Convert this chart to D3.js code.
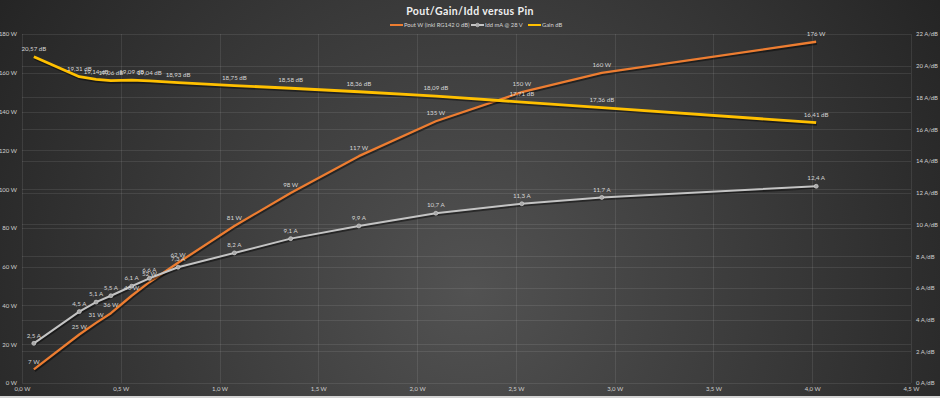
<!DOCTYPE html>
<html>
<head>
<meta charset="utf-8">
<script src="https://cdn.jsdelivr.net/npm/d3@7"></script>
<style>
    body { margin: 0; background: #222; }
    svg { display: block; }
    text { font-family: "Lato", "Liberation Sans", sans-serif; }
</style>
</head>
<body>
<script>
var w = 940;
var h = 398;

// Data (Pin in W)
//************** */
var pin = [0.06, 0.29, 0.375, 0.45, 0.555, 0.645, 0.79, 1.075, 1.36, 1.705, 2.095, 2.53, 2.935, 4.02];
var pout = [7, 25, 31, 36, 45, 52, 62, 81, 98, 117, 135, 150, 160, 176];
var idd = [2.5, 4.5, 5.1, 5.5, 6.1, 6.6, 7.3, 8.2, 9.1, 9.9, 10.7, 11.3, 11.7, 12.4];
var gain = [20.57, 19.31, 19.14, 19.06, 19.09, 19.04, 18.93, 18.75, 18.58, 18.36, 18.09, 17.71, 17.36, 16.41];

var seriesNames = ["Pout W (inkl RG142 0 dB)", "Idd mA @ 28 V", "Gain dB"];
var seriesColors = ["#ED7D31", "#C4C4C4", "#FFC000"];
var title = "Pout/Gain/Idd versus Pin";

var xTicks = [0, 0.5, 1, 1.5, 2, 2.5, 3, 3.5, 4, 4.5];
var leftTicks = [0, 20, 40, 60, 80, 100, 120, 140, 160, 180];
var rightTicks = [0, 2, 4, 6, 8, 10, 12, 14, 16, 18, 20, 22];

function comma(v, n) {
    return v.toFixed(n).replace(".", ",");
}

//Scales
//************** */
var x = d3.scaleLinear().domain([0, 4.5]).range([22, 911]);
var yL = d3.scaleLinear().domain([0, 180]).range([383, 34]);
var yR = d3.scaleLinear().domain([0, 22]).range([383, 34]);

var svg = d3.select("body")
    .append("svg")
    .attr("width", w)
    .attr("height", h);

// background gradient
var defs = svg.append("defs");
var grad = defs.append("radialGradient")
    .attr("id", "bg")
    .attr("gradientUnits", "userSpaceOnUse")
    .attr("cx", 470).attr("cy", 290).attr("r", 560);
grad.append("stop").attr("offset", 0).attr("stop-color", "#525252");
grad.append("stop").attr("offset", 1).attr("stop-color", "#242424");

svg.append("rect")
    .attr("width", w)
    .attr("height", h)
    .attr("fill", "url(#bg)");

svg.append("rect")
    .attr("y", 396)
    .attr("width", w)
    .attr("height", 2)
    .attr("fill", "#d4d4d4");

//Gridlines
//************** */
var grid = svg.append("g")
    .attr("stroke", "#ffffff")
    .attr("stroke-opacity", 0.09)
    .attr("stroke-width", 1);

grid.selectAll(".gl")
    .data(leftTicks)
    .enter()
    .append("line")
    .attr("x1", x(0)).attr("x2", x(4.5))
    .attr("y1", function (d) { return Math.round(yL(d)) + 0.5; })
    .attr("y2", function (d) { return Math.round(yL(d)) + 0.5; });

grid.selectAll(".gr")
    .data(rightTicks.filter(function (d) { return d > 0 && d < 22; }))
    .enter()
    .append("line")
    .attr("x1", x(0)).attr("x2", x(4.5))
    .attr("y1", function (d) { return Math.round(yR(d)) + 0.5; })
    .attr("y2", function (d) { return Math.round(yR(d)) + 0.5; });

grid.selectAll(".gx")
    .data(xTicks)
    .enter()
    .append("line")
    .attr("y1", yL(0)).attr("y2", yL(180))
    .attr("x1", function (d) { return Math.round(x(d)) + 0.5; })
    .attr("x2", function (d) { return Math.round(x(d)) + 0.5; });

//Axes
//************** */
var axisLeft = d3.axisLeft(yL)
    .tickValues(leftTicks)
    .tickSize(0)
    .tickPadding(5)
    .tickFormat(function (d) { return d + " W"; });

var axisRight = d3.axisRight(yR)
    .tickValues(rightTicks)
    .tickSize(0)
    .tickPadding(5)
    .tickFormat(function (d) { return d + " A/dB"; });

var axisBottom = d3.axisBottom(x)
    .tickValues(xTicks)
    .tickSize(0)
    .tickPadding(4)
    .tickFormat(function (d) { return comma(d, 1) + " W"; });

svg.append("g").attr("transform", "translate(22,0)").call(axisLeft);
svg.append("g").attr("transform", "translate(911,0)").call(axisRight);
svg.append("g").attr("transform", "translate(0,383)").call(axisBottom);

svg.selectAll(".domain").remove();
svg.selectAll(".tick text")
    .attr("fill", "#d0d0d0")
    .style("font-size", "6px");

//Lines
//************** */
var rows = pin.map(function (p, i) {
    return { pin: p, pout: pout[i], idd: idd[i], gain: gain[i] };
});

var series = [
    { key: "pout", y: yL, color: seriesColors[0], width: 2.3, label: function (d) { return d + " W"; } },
    { key: "idd", y: yR, color: seriesColors[1], width: 2, label: function (d) { return comma(d, 1) + " A"; } },
    { key: "gain", y: yR, color: seriesColors[2], width: 2.8, label: function (d) { return comma(d, 2) + " dB"; } }
];

series.forEach(function (s) {
    var line = d3.line()
        .x(function (d) { return x(d.pin); })
        .y(function (d) { return s.y(d[s.key]); });

    // shadow
    svg.append("path")
        .datum(rows)
        .attr("d", line)
        .attr("transform", "translate(0.8,1.5)")
        .attr("fill", "none")
        .attr("stroke", "#000")
        .attr("stroke-opacity", 0.45)
        .attr("stroke-width", s.width + 0.5);

    svg.append("path")
        .datum(rows)
        .attr("d", line)
        .attr("fill", "none")
        .attr("stroke", s.color)
        .attr("stroke-width", s.width)
        .attr("stroke-linejoin", "round");

    if (s.key == "idd") {
        svg.selectAll(".marker")
            .data(rows)
            .enter()
            .append("circle")
            .attr("cx", function (d) { return x(d.pin); })
            .attr("cy", function (d) { return s.y(d.idd); })
            .attr("r", 2)
            .attr("fill", "#a8a8a8")
            .attr("stroke", "#cfcfcf")
            .attr("stroke-width", 0.7);
    }
});

//Data labels
//************** */
series.forEach(function (s) {
    svg.append("g")
        .selectAll("text")
        .data(rows)
        .enter()
        .append("text")
        .attr("x", function (d) { return x(d.pin); })
        .attr("y", function (d) { return s.y(d[s.key]) - 8; })
        .attr("dy", "0.35em")
        .attr("text-anchor", "middle")
        .attr("fill", "#d6d6d6")
        .style("font-size", "6.2px")
        .text(function (d) { return s.label(d[s.key]); });
});

//Title + legend
//************** */
svg.append("text")
    .attr("x", 470)
    .attr("y", 15)
    .attr("text-anchor", "middle")
    .attr("fill", "#f0f0f0")
    .style("font-size", "10.5px")
    .style("font-weight", "bold")
    .style("letter-spacing", "0.4px")
    .text(title);

var legendX = [390, 471, 528];
var legend = svg.selectAll(".legend")
    .data(seriesNames)
    .enter()
    .append("g")
    .attr("transform", function (d, i) { return "translate(" + legendX[i] + ",25)"; });

legend.append("line")
    .attr("x1", 0).attr("x2", 13)
    .attr("stroke", function (d, i) { return seriesColors[i]; })
    .attr("stroke-width", 2);

legend.filter(function (d, i) { return i == 1; })
    .append("circle")
    .attr("cx", 6.5)
    .attr("r", 1.8)
    .attr("fill", "#a8a8a8")
    .attr("stroke", "#cfcfcf")
    .attr("stroke-width", 0.6);

legend.append("text")
    .attr("x", 14)
    .attr("dy", "0.35em")
    .attr("fill", "#d6d6d6")
    .style("font-size", "5.8px")
    .text(function (d) { return d; });
</script>
</body>
</html>
